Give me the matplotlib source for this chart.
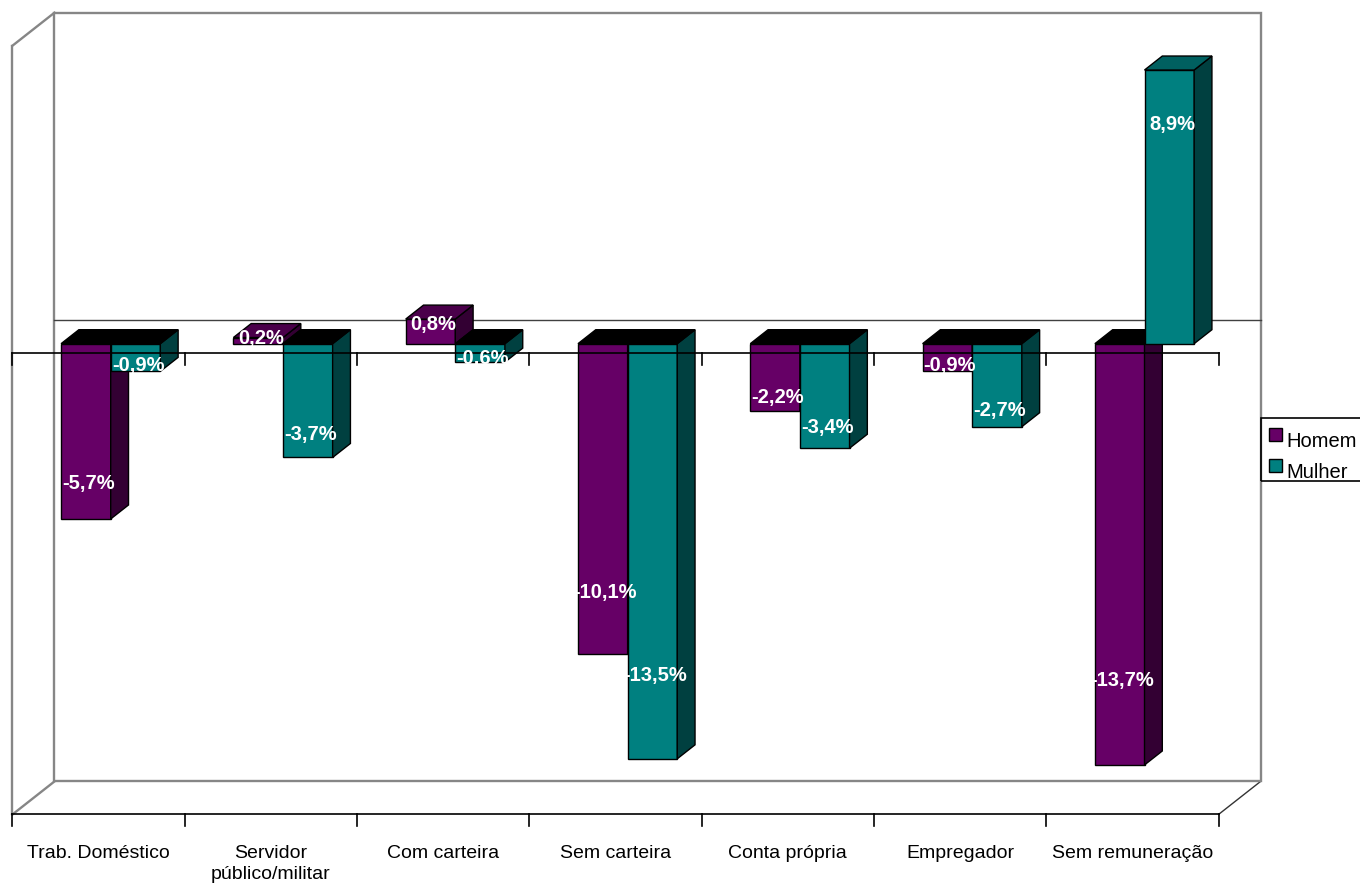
import numpy as np
import matplotlib
matplotlib.use("Agg")
import matplotlib.pyplot as plt
from matplotlib.patches import Polygon, Rectangle

categories = ["Trab. Doméstico", "Servidor\npúblico/militar", "Com carteira",
              "Sem carteira", "Conta própria", "Empregador", "Sem remuneração"]
homem = [-5.7, 0.2, 0.8, -10.1, -2.2, -0.9, -13.7]
mulher = [-0.9, -3.7, -0.6, -13.5, -3.4, -2.7, 8.9]
series_names = ["Homem", "Mulher"]

v_min, v_max = -15, 10

# colours: front, side, top (positive bars)
colors = [("#660066", "#330033", "#4a004a"),
          ("#008080", "#004040", "#006060")]

# oblique "3d" depth, in data units for the full floor depth
DX = 42 / 172.3
DY = 33 / 30.75
d_front, d_bar, d_back = -0.288, 0.424, 0.712
w = 0.288
wall = "#868686"
label_font = ["Liberation Sans", "DejaVu Sans"]
text_font = ["Liberation Sans", "DejaVu Sans"]


def P(x, v, d):
    return (x + d * DX, v + d * DY)


def seg(p, q, **kw):
    ax.plot([p[0], q[0]], [p[1], q[1]], **kw)


fig = plt.figure(figsize=(13.6, 8.86), dpi=100)
ax = fig.add_axes([0, 0, 1, 1])
ax.set_xlim(-0.6425, 7.2507)
ax.set_ylim(-17.636, 11.177)
ax.axis("off")

n = len(categories)
left, right = -0.5, n - 0.5

# walls
kw = dict(color=wall, lw=1.7, zorder=1, solid_capstyle="projecting")
seg(P(left, v_max, d_front), P(left, v_max, d_back), **kw)
seg(P(left, v_min, d_front), P(left, v_min, d_back), **kw)
seg(P(left, v_min, d_front), P(left, v_max, d_front), **kw)
seg(P(right, v_min, d_front), P(right, v_min, d_back), color="#333333", lw=1, zorder=1)
back = [P(left, v_min, d_back), P(right, v_min, d_back),
        P(right, v_max, d_back), P(left, v_max, d_back)]
ax.add_patch(Polygon(back, closed=True, fill=False, edgecolor=wall, lw=1.7, zorder=1))
seg(P(left, 0, d_back), P(right, 0, d_back), color="#404040", lw=1, zorder=1.5)

# category axis at the floor and at zero
tick = 12 / 30.75
for v0, z in [(v_min, 2), (0, 5)]:
    seg(P(left, v0, d_front), P(right, v0, d_front), color="black", lw=1.2, zorder=z)
    for k in range(n + 1):
        p = P(k - 0.5, v0, d_front)
        seg(p, (p[0], p[1] - tick), color="black", lw=1.2, zorder=z)

# bars
idx = np.arange(n)
for s, vals in enumerate([homem, mulher]):
    front, side, topc = colors[s]
    xl = idx - w + s * w
    ax.bar(xl, vals, width=w, align="edge", color=front, edgecolor="black",
           linewidth=1, zorder=3 + s)
    for x0, v in zip(xl, vals):
        x1 = x0 + w
        vt = max(v, 0)
        top = [P(x0, vt, 0), P(x1, vt, 0), P(x1, vt, d_bar), P(x0, vt, d_bar)]
        sd = [P(x1, 0, 0), P(x1, v, 0), P(x1, v, d_bar), P(x1, 0, d_bar)]
        ax.add_patch(Polygon(sd, closed=True, facecolor=side, edgecolor="black",
                             lw=1, zorder=3 + s))
        ax.add_patch(Polygon(top, closed=True, facecolor=topc if v > 0 else "black",
                             edgecolor="black", lw=1, zorder=3 + s))
        ax.text(x0 + w / 2 + 0.015, 0.8 * v, f"{v:.1f}%".replace(".", ","),
                color="white", fontsize=14.5, fontweight="bold", family=label_font,
                ha="center", va="center", zorder=6)

# category labels
for i, cat in enumerate(categories):
    ax.annotate(cat, xy=P(i, v_min, d_front), xytext=(0, -31),
                textcoords="offset pixels", ha="center", va="top",
                fontsize=14, family=text_font, linespacing=1.3)

# legend
W, H = 1360, 886
fig.patches.append(Rectangle((1261 / W, 1 - 481 / H), 110 / W, 63 / H,
                             transform=fig.transFigure, fill=False,
                             edgecolor="black", lw=1.2))
for s, name in enumerate(series_names):
    yc = 434 + s * 31
    fig.patches.append(Rectangle((1269 / W, 1 - (yc + 6.5) / H), 13 / W, 13 / H,
                                 transform=fig.transFigure,
                                 facecolor=colors[s][0], edgecolor="black", lw=1))
    fig.text(1286 / W, 1 - (yc + 6) / H, name, fontsize=14.5, family=text_font,
             va="center_baseline", ha="left")

fig.savefig("out.png", dpi=100)
